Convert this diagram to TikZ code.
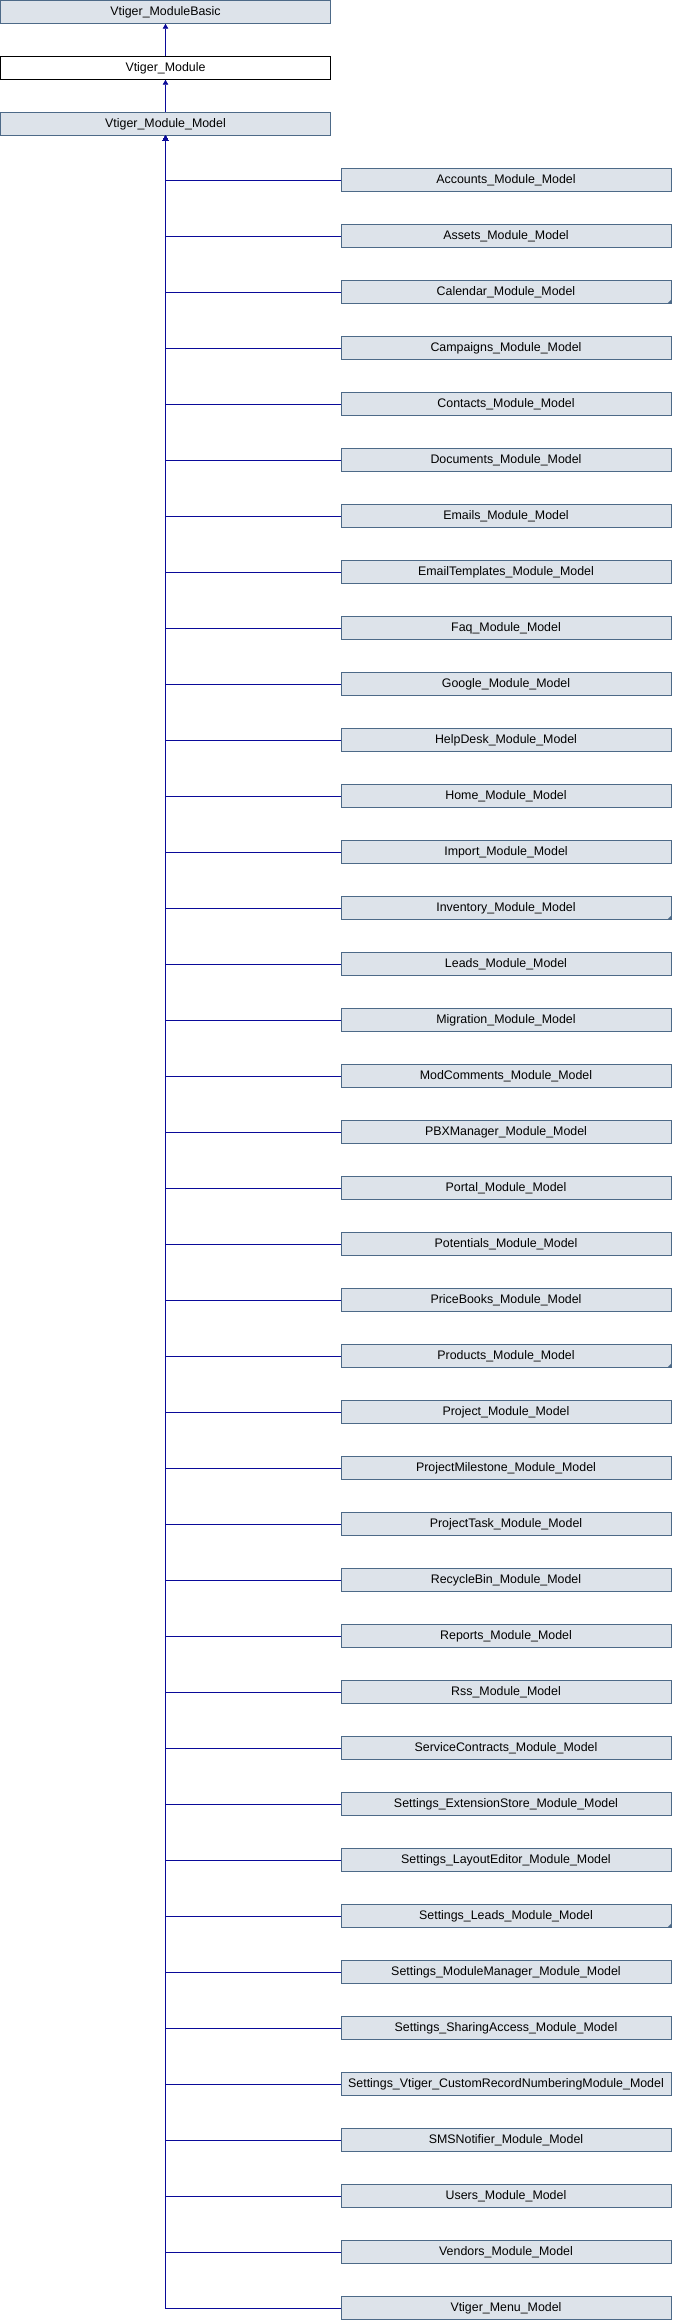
\documentclass[tikz,border=0pt]{standalone}
\usepackage{fontspec}
\setmainfont{Liberation Sans}
\usetikzlibrary{arrows.meta}
\definecolor{boxfill}{HTML}{DDE3EA}
\definecolor{boxline}{HTML}{4D6A88}
\definecolor{edgecol}{HTML}{0A0A99}
\tikzset{
  cls/.style={draw=boxline, fill=boxfill, minimum width=330pt, minimum height=23pt, inner sep=0pt, line width=0.9pt, font=\fontsize{12.4}{14}\selectfont},
  cur/.style={cls, draw=black, fill=white},
  conn/.style={draw=edgecol, line width=0.9pt, -{Triangle[length=5pt,width=5.5pt]}},
  trunc/.style={fill=boxline}
}
\begin{document}
\begin{tikzpicture}[x=1pt,y=-1pt]
\useasboundingbox (0,0) rectangle (672,2320);
\node[cls] (basic) at (165.5,11.8) {Vtiger\_ModuleBasic};
\node[cur] (module) at (165.5,67.8) {Vtiger\_Module};
\node[cls] (model) at (165.5,123.8) {Vtiger\_Module\_Model};
\draw[conn] (module.north) -- (basic.south);
\draw[conn] (model.north) -- (module.south);
\foreach \nm [count=\i from 0] in {Accounts\_Module\_Model, Assets\_Module\_Model, Calendar\_Module\_Model, Campaigns\_Module\_Model, Contacts\_Module\_Model, Documents\_Module\_Model, Emails\_Module\_Model, EmailTemplates\_Module\_Model, Faq\_Module\_Model, Google\_Module\_Model, HelpDesk\_Module\_Model, Home\_Module\_Model, Import\_Module\_Model, Inventory\_Module\_Model, Leads\_Module\_Model, Migration\_Module\_Model, ModComments\_Module\_Model, PBXManager\_Module\_Model, Portal\_Module\_Model, Potentials\_Module\_Model, PriceBooks\_Module\_Model, Products\_Module\_Model, Project\_Module\_Model, ProjectMilestone\_Module\_Model, ProjectTask\_Module\_Model, RecycleBin\_Module\_Model, Reports\_Module\_Model, Rss\_Module\_Model, ServiceContracts\_Module\_Model, Settings\_ExtensionStore\_Module\_Model, Settings\_LayoutEditor\_Module\_Model, Settings\_Leads\_Module\_Model, Settings\_ModuleManager\_Module\_Model, Settings\_SharingAccess\_Module\_Model, Settings\_Vtiger\_CustomRecordNumberingModule\_Model, SMSNotifier\_Module\_Model, Users\_Module\_Model, Vendors\_Module\_Model, Vtiger\_Menu\_Model} {
  \node[cls] (c\i) at (506,{180+56*\i}) {\nm};
  \draw[conn] (c\i.west) -| (model.south);
}
\foreach \i in {2,13,21,31} {
  \fill[trunc] ([xshift=-4.5pt]c\i.south east) -- (c\i.south east) -- ([yshift=4.5pt]c\i.south east) -- cycle;
}
\end{tikzpicture}
\end{document}
